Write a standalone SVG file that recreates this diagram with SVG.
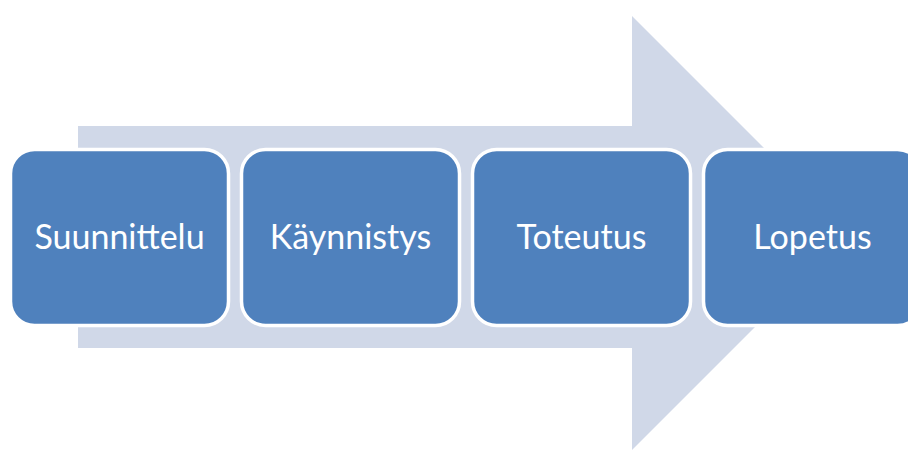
<svg xmlns="http://www.w3.org/2000/svg" width="908" height="450" viewBox="0 0 908 450">
<style>
.box{fill:#4F81BD;stroke:#FFFFFF;stroke-width:3.5}
.lbl{font-family:Lato,"Open Sans","Liberation Sans",sans-serif;font-size:34px;fill:#FFFFFF;text-anchor:middle}
</style>
<rect width="908" height="450" fill="#FFFFFF"/>
<g id="arrow">
<polygon points="78,126 632,126 632,16 849,233 632,450 632,348 78,348" fill="#D0D8E8"/>
</g>
<g id="connectors"></g>
<g id="n1"><rect class="box" x="10.5" y="149.5" width="218" height="176" rx="24"/><text class="lbl" x="119.5" y="249">Suunnittelu</text></g>
<g id="n2"><rect class="box" x="241.5" y="149.5" width="218" height="176" rx="24"/><text class="lbl" x="350.5" y="249">Käynnistys</text></g>
<g id="n3"><rect class="box" x="472.5" y="149.5" width="218" height="176" rx="24"/><text class="lbl" x="581.5" y="249">Toteutus</text></g>
<g id="n4"><rect class="box" x="703.5" y="149.5" width="218" height="176" rx="24"/><text class="lbl" x="812.5" y="249">Lopetus</text></g>
</svg>
